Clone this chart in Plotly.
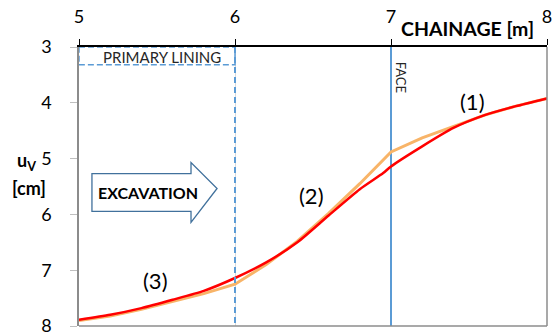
import plotly.graph_objects as go

# Vertical settlement u_V along the tunnel chainage
chainage = [5.0, 5.2, 5.4, 5.6, 5.8, 6.0, 6.2, 6.4, 6.6, 6.8, 6.95, 7.0, 7.2, 7.4, 7.6, 7.8, 8.0]
uv_measured = [7.90, 7.82, 7.70, 7.56, 7.42, 7.25, 6.90, 6.48, 5.98, 5.45, 5.02, 4.88, 4.63, 4.42, 4.22, 4.06, 3.92]
uv_fitted = [7.89, 7.80, 7.68, 7.53, 7.37, 7.14, 6.86, 6.50, 6.02, 5.55, 5.26, 5.14, 4.78, 4.45, 4.22, 4.06, 3.92]

x_ticks = [5, 6, 7, 8]
y_ticks = [3, 4, 5, 6, 7, 8]

lining_end = 6.0
face_pos = 7.0

stage_labels = ["(1)", "(2)", "(3)"]
stage_x = [7.52, 6.49, 5.49]
stage_y = [3.98, 5.66, 7.18]

FONT = "Lato"
BLUE = "#5B9BD5"

fig = go.Figure()
fig.add_trace(go.Scatter(x=chainage, y=uv_measured, mode="lines",
                         line=dict(color="#F8B468", width=3), hoverinfo="skip"))
fig.add_trace(go.Scatter(x=chainage, y=uv_fitted, mode="lines",
                         line=dict(color="#FF0000", width=2.5, shape="spline", smoothing=0.6),
                         hoverinfo="skip"))

shapes = [
    # primary lining zone
    dict(type="rect", xref="x", yref="y", x0=5, x1=lining_end, y0=3, y1=3.32,
         line=dict(color=BLUE, width=1.5, dash="6px,3px"), layer="above"),
    dict(type="line", xref="x", yref="y", x0=lining_end, x1=lining_end, y0=3, y1=8,
         line=dict(color=BLUE, width=2, dash="6px,4px"), layer="above"),
    # tunnel face
    dict(type="line", xref="x", yref="y", x0=face_pos, x1=face_pos, y0=3, y1=8,
         line=dict(color=BLUE, width=2), layer="between"),
    # frame: grey bottom and right edges
    dict(type="line", xref="paper", yref="paper", x0=0, x1=1, y0=0, y1=0,
         line=dict(color="#8C8C8C", width=1.5)),
    dict(type="line", xref="paper", yref="paper", x0=1, x1=1, y0=0, y1=1,
         line=dict(color="#8C8C8C", width=1.5)),
    # excavation direction arrow
    dict(type="path", xref="x", yref="y",
         path="M 5.083 5.268 L 5.718 5.268 L 5.718 5.071 L 5.885 5.536 "
              "L 5.718 6.143 L 5.718 5.946 L 5.083 5.946 Z",
         fillcolor="white", line=dict(color="#41719C", width=1.3), layer="above"),
]


def note(text, x, y, size, ref="data", bold=False, angle=0, color="black"):
    ref_x, ref_y = ("x", "y") if ref == "data" else ("paper", "paper")
    return dict(text=f"<b>{text}</b>" if bold else text, x=x, y=y, xref=ref_x, yref=ref_y,
                xanchor="center", yanchor="middle", showarrow=False, textangle=angle,
                align="center", font=dict(family=FONT, size=size, color=color))


annotations = [
    note("PRIMARY LINING", 5.53, 3.18, 15, color="#262626"),
    note("FACE", 7.064, 3.55, 13, angle=90, color="#262626"),
    note("EXCAVATION", 5.44, 5.60, 16, bold=True),
    note("CHAINAGE [m]", 0.831, 1.068, 19.5, ref="paper", bold=True),
    note("u<sub>V</sub>", -0.112, 0.59, 18, ref="paper", bold=True),
    note("[cm]", -0.107, 0.495, 18, ref="paper", bold=True),
]
for lab, lx, ly in zip(stage_labels, stage_x, stage_y):
    annotations.append(note(lab, lx, ly, 22))

fig.update_layout(
    width=555, height=334,
    margin=dict(l=79, r=8, t=47, b=8),
    paper_bgcolor="white", plot_bgcolor="white",
    showlegend=False,
    shapes=shapes, annotations=annotations,
    xaxis=dict(range=[5, 8], side="top", tickvals=x_ticks, ticks="outside", ticklen=6,
               tickcolor="black", showline=True, linecolor="black", linewidth=1.5,
               showgrid=True, gridcolor="#D9D9D9", gridwidth=1, zeroline=False,
               automargin=False,
               tickfont=dict(family=FONT, size=18, color="black"), ticklabelstandoff=9),
    yaxis=dict(range=[8, 3], tickvals=y_ticks, ticks="outside", ticklen=7,
               tickcolor="#BFBFBF", showline=True, linecolor="#8C8C8C", linewidth=1.5,
               showgrid=False, zeroline=False, automargin=False,
               ticklabeloverflow="allow",
               tickfont=dict(family=FONT, size=18, color="black"), ticklabelstandoff=15),
)

fig.write_html("out.html")
